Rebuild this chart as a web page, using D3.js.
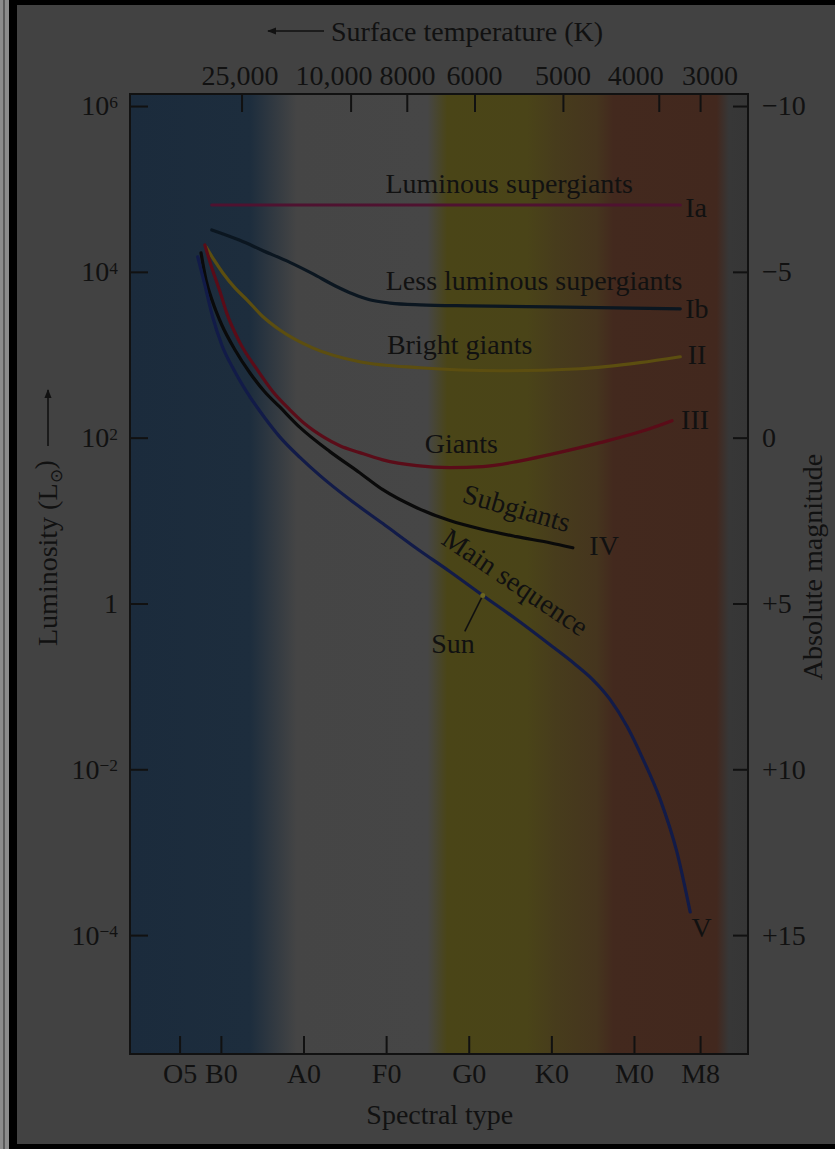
<!DOCTYPE html>
<html>
<head>
<meta charset="utf-8">
<script src="https://cdn.jsdelivr.net/npm/d3@7"></script>
<style>
  body { margin: 0; background: #424242; }
  svg { display: block; }
  text { font-family: 'Liberation Serif', 'Times New Roman', serif; fill: #111; }
</style>
</head>
<body>
<svg width="835" height="1149"></svg>
<script>
const svg = d3.select('svg');
const width = +svg.attr('width');
const height = +svg.attr('height');

// spectral index: O0 = 0, B0 = 10, A0 = 20 ... M0 = 60
const spectralTypes = ['O5', 'B0', 'A0', 'F0', 'G0', 'K0', 'M0', 'M8'];
const spectralIndex = [5, 10, 20, 30, 40, 50, 60, 68];

const lumTicks = [1e6, 1e4, 1e2, 1, 1e-2, 1e-4];
const magTicks = [-10, -5, 0, 5, 10, 15];

const tempLabels = ['25,000', '10,000', '8000', '6000', '5000', '4000', '3000'];
const tempTickSp = [12.5, 25.7, 32.5, 40.7, 51.4, 63.0, 68.0];
const tempLabelSp = [12.3, 23.7, 32.6, 40.7, 51.4, 60.2, 69.2];

// luminosity classes, [spectral index, L / Lsun]
const classIa = [[8.9, 6.4e4], [65.6, 6.4e4]];
const classIb = [[8.9, 3.2e4], [12.3, 2.4e4], [15.1, 1.8e4], [18.35, 1.3e4], [21.1, 9.5e3],
  [23.8, 6.8e3], [26.0, 5.4e3], [28.0, 4.6e3], [30.5, 4.2e3], [34.1, 4.0e3], [40.2, 3.89e3],
  [49.8, 3.78e3], [65.6, 3.58e3]];
const classII = [[8.2, 2.0e4], [9.15, 1.4e4], [10.24, 9.7e3], [11.7, 6.4e3], [13.15, 4.6e3],
  [15.1, 2.87e3], [17.1, 2.0e3], [21.1, 1.21e3], [26.8, 824], [34.1, 697], [43.8, 641],
  [53.5, 678], [60.7, 802], [65.6, 946]];
const classIII = [[8.06, 2.11e4], [8.9, 1.12e4], [9.9, 5.74e3], [10.7, 3.2e3], [12.3, 1.4e3],
  [14.4, 660], [16.3, 358], [18.35, 217], [20.3, 143], [22.35, 103], [24.4, 80], [26.8, 66],
  [29.6, 54], [33.7, 46], [37.7, 43.5], [41.7, 44.8], [45.8, 51.4], [49.8, 62.4], [55.9, 87],
  [61.9, 128], [64.6, 160]];
const classIV = [[7.6, 1.69e4], [8.2, 8.0e3], [9.0, 4.35e3], [10.1, 2.3e3], [11.7, 1.15e3],
  [13.5, 607], [15.3, 358], [17.1, 236], [19.6, 132], [23.2, 67.8], [26.8, 37.8], [29.6, 23.6],
  [33.7, 14.3], [37.7, 10], [41.7, 7.8], [45.8, 6.4], [49.8, 5.4], [52.6, 4.7]];
const classV = [[7.2, 1.52e4], [8.06, 6.97e3], [9.0, 2.87e3], [10.1, 1.32e3], [11.7, 624],
  [13.5, 312], [15.3, 174], [17.1, 103], [19.6, 57.4], [22.0, 34.8], [25.6, 17.9], [29.6, 9.2],
  [33.7, 4.6], [37.7, 2.43], [41.7, 1.25], [45.8, 0.64], [49.8, 0.32], [52.9, 0.184],
  [55.0, 0.121], [57.1, 0.0697], [59.15, 0.033], [61.1, 0.0132], [63.15, 4.4e-3],
  [65.2, 1.0e-3], [66.8, 1.9e-4]];

const sun = [41.7, 1.25];

const series = [
  { name: 'Ia', points: classIa, color: '#4f1230' },
  { name: 'Ib', points: classIb, color: '#0b1620' },
  { name: 'II', points: classII, color: '#5c4e10' },
  { name: 'III', points: classIII, color: '#5a0c18' },
  { name: 'IV', points: classIV, color: '#0a0a0a' },
  { name: 'V', points: classV, color: '#121b48' }
];

// label text, anchor point in data units
const annotations = [
  { text: 'Luminous supergiants', sp: 44.9, L: 8.9e4, anchor: 'middle', rot: 0 },
  { text: 'Less luminous supergiants', sp: 47.9, L: 6.1e3, anchor: 'middle', rot: 0 },
  { text: 'Bright giants', sp: 38.9, L: 1.03e3, anchor: 'middle', rot: 0 },
  { text: 'Giants', sp: 39.1, L: 66, anchor: 'middle', rot: 0 },
  { text: 'Subgiants', sp: 45.5, L: 11, anchor: 'middle', rot: 16 },
  { text: 'Main sequence', sp: 45.0, L: 1.45, anchor: 'middle', rot: 34 },
  { text: 'Ia', sp: 66.2, L: 4.6e4, anchor: 'start', rot: 0 },
  { text: 'Ib', sp: 66.2, L: 2.8e3, anchor: 'start', rot: 0 },
  { text: 'II', sp: 66.5, L: 780, anchor: 'start', rot: 0 },
  { text: 'III', sp: 65.7, L: 128, anchor: 'start', rot: 0 },
  { text: 'IV', sp: 54.6, L: 3.8, anchor: 'start', rot: 0 },
  { text: 'V', sp: 68.2, L: 9.6e-5, anchor: 'middle', rot: 0 },
  { text: 'Sun', sp: 38.1, L: 0.25, anchor: 'middle', rot: 0 }
];

const margin = { top: 94, right: 87, bottom: 95, left: 130 };
const innerWidth = width - margin.left - margin.right;
const innerHeight = height - margin.top - margin.bottom;
const fontSize = 28;

const xScale = d3.scaleLinear()
  .domain([-1, 73.8])
  .range([0, innerWidth]);

const yScale = d3.scaleLog()
  .domain([Math.pow(10, -5.434), Math.pow(10, 6.145)])
  .range([innerHeight, 0]);

// absolute magnitude: M = 5 - 2.5 log L
const magScale = d3.scaleLinear()
  .domain([5 - 2.5 * 6.145, 5 + 2.5 * 5.434])
  .range([0, innerHeight]);

/* page frame */
svg.append('rect').attr('width', width).attr('height', height).attr('fill', '#424242');
svg.append('rect').attr('x', 0).attr('width', 9).attr('height', height).attr('fill', '#8c8c8c');
svg.append('rect').attr('x', 3).attr('width', 2).attr('height', height).attr('fill', '#5a5a5a');
svg.append('rect').attr('x', 9).attr('width', 8).attr('height', height).attr('fill', '#000');
svg.append('rect').attr('x', 9).attr('width', width).attr('height', 5).attr('fill', '#000');
svg.append('rect').attr('x', 9).attr('y', 1144).attr('width', width).attr('height', 5).attr('fill', '#000');

const defs = svg.append('defs');
defs.append('marker')
  .attr('id', 'arrow')
  .attr('viewBox', '0 0 10 10')
  .attr('refX', 9).attr('refY', 5)
  .attr('markerWidth', 9).attr('markerHeight', 9)
  .attr('markerUnits', 'userSpaceOnUse')
  .attr('orient', 'auto')
  .append('path')
    .attr('d', 'M0,1 L10,5 L0,9 Z')
    .attr('fill', '#111');

// colour bands behind the curves, stops in spectral index
const bandStops = [
  [-1, '#1b2b3c'], [13.5, '#1d2d3d'], [19.2, '#454545'], [35.0, '#464646'],
  [37.4, '#4a4517'], [47.0, '#4a4418'], [50.5, '#473c1c'], [55.5, '#45351e'],
  [57.5, '#43291e'], [70.0, '#42281e'], [71.5, '#373737'], [73.8, '#363636']
];
const grad = defs.append('linearGradient')
  .attr('id', 'bands')
  .attr('gradientUnits', 'userSpaceOnUse')
  .attr('x1', 0).attr('x2', innerWidth).attr('y1', 0).attr('y2', 0);
grad.selectAll('stop').data(bandStops).join('stop')
  .attr('offset', d => xScale(d[0]) / innerWidth)
  .attr('stop-color', d => d[1]);

const g = svg.append('g')
  .attr('transform', `translate(${margin.left},${margin.top})`);

g.append('rect')
  .attr('width', innerWidth)
  .attr('height', innerHeight)
  .attr('fill', 'url(#bands)');

/* axes */
const styleAxis = sel => {
  sel.select('.domain').remove();
  sel.selectAll('.tick line').attr('stroke', '#111').attr('stroke-width', 2);
  sel.selectAll('.tick text')
    .attr('fill', '#111')
    .attr('font-size', fontSize)
    .attr('font-family', "'Liberation Serif', serif");
};

const bottomAxis = d3.axisBottom(xScale)
  .tickValues(spectralIndex)
  .tickFormat((d, i) => spectralTypes[i])
  .tickSizeInner(-18)
  .tickSizeOuter(0)
  .tickPadding(9);
g.append('g')
  .attr('transform', `translate(0,${innerHeight})`)
  .call(bottomAxis)
  .call(styleAxis);

const topAxis = d3.axisTop(xScale)
  .tickValues(tempTickSp)
  .tickFormat('')
  .tickSizeInner(-18)
  .tickSizeOuter(0);
g.append('g').call(topAxis).call(styleAxis);

g.append('g').selectAll('text')
  .data(tempLabels)
  .join('text')
    .attr('x', (d, i) => xScale(tempLabelSp[i]))
    .attr('y', -9)
    .attr('text-anchor', 'middle')
    .attr('font-size', fontSize)
    .text(d => d);

const exps = { 1e6: '6', 1e4: '4', 1e2: '2', 1e-2: '\u22122', 1e-4: '\u22124' };
const leftAxis = d3.axisLeft(yScale)
  .tickValues(lumTicks)
  .tickSizeInner(-18)
  .tickSizeOuter(0)
  .tickPadding(12);
const leftAxisG = g.append('g').call(leftAxis).call(styleAxis);
leftAxisG.selectAll('.tick text').each(function(d) {
  const t = d3.select(this).text(null);
  if (d === 1) { t.text('1'); return; }
  t.append('tspan').text('10');
  t.append('tspan')
    .attr('dy', '-0.42em')
    .attr('font-size', '0.62em')
    .text(exps[d]);
});

const rightAxis = d3.axisRight(magScale)
  .tickValues(magTicks)
  .tickFormat(d => d < 0 ? '\u2212' + Math.abs(d) : d > 0 ? '+' + d : '0')
  .tickSizeInner(-15)
  .tickSizeOuter(0)
  .tickPadding(14);
g.append('g')
  .attr('transform', `translate(${innerWidth},0)`)
  .call(rightAxis)
  .call(styleAxis);

g.append('rect')
  .attr('width', innerWidth)
  .attr('height', innerHeight)
  .attr('fill', 'none')
  .attr('stroke', '#111')
  .attr('stroke-width', 2);

/* curves */
const line = d3.line()
  .x(d => xScale(d[0]))
  .y(d => yScale(d[1]))
  .curve(d3.curveMonotoneX);

g.append('g').selectAll('path')
  .data(series)
  .join('path')
    .attr('d', d => line(d.points))
    .attr('fill', 'none')
    .attr('stroke', d => d.color)
    .attr('stroke-width', 3.2)
    .attr('stroke-linecap', 'round');

// Sun marker
const sx = xScale(sun[0]);
const sy = yScale(sun[1]);
g.append('line')
  .attr('x1', sx).attr('y1', sy)
  .attr('x2', sx - 18).attr('y2', sy + 36)
  .attr('stroke', '#111').attr('stroke-width', 1.6);
g.append('circle')
  .attr('cx', sx).attr('cy', sy).attr('r', 2.5)
  .attr('fill', '#6a6420');

/* annotations */
g.append('g').selectAll('text')
  .data(annotations)
  .join('text')
    .attr('transform', d => `translate(${xScale(d.sp)},${yScale(d.L)}) rotate(${d.rot})`)
    .attr('text-anchor', d => d.anchor)
    .attr('font-size', fontSize)
    .text(d => d.text);

/* axis titles */
svg.append('text')
  .attr('x', 331)
  .attr('y', 41)
  .attr('font-size', fontSize)
  .text('Surface temperature (K)');
svg.append('line')
  .attr('x1', 324).attr('y1', 31)
  .attr('x2', 268).attr('y2', 31)
  .attr('stroke', '#111').attr('stroke-width', 1.6)
  .attr('marker-end', 'url(#arrow)');

svg.append('text')
  .attr('x', margin.left + xScale(36.5))
  .attr('y', 1124)
  .attr('text-anchor', 'middle')
  .attr('font-size', fontSize)
  .text('Spectral type');

const yTitle = svg.append('text')
  .attr('transform', 'translate(57,646) rotate(-90)')
  .attr('font-size', fontSize);
yTitle.append('tspan').text('Luminosity (L');
yTitle.append('tspan').attr('dy', '0.3em').attr('font-size', '0.62em').text('\u2299');
yTitle.append('tspan').attr('dy', '-0.3em').text(')');
svg.append('line')
  .attr('x1', 48).attr('y1', 446)
  .attr('x2', 48).attr('y2', 390)
  .attr('stroke', '#111').attr('stroke-width', 1.6)
  .attr('marker-end', 'url(#arrow)');

svg.append('text')
  .attr('transform', `translate(822,${margin.top + magScale(3.9)}) rotate(-90)`)
  .attr('text-anchor', 'middle')
  .attr('font-size', fontSize)
  .text('Absolute magnitude');
</script>
</body>
</html>
